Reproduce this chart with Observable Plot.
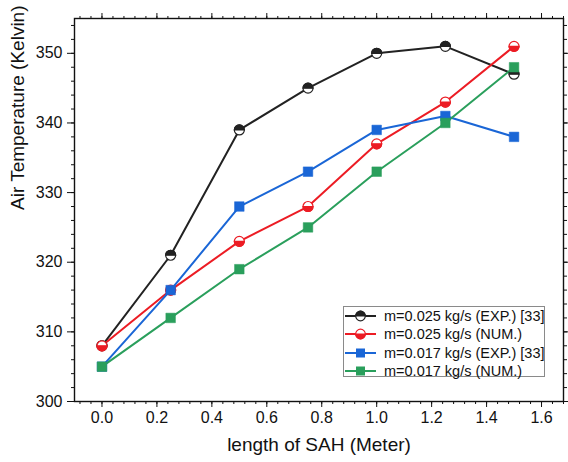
<!DOCTYPE html>
<html>
<head>
<meta charset="utf-8">
<script src="https://cdn.jsdelivr.net/npm/d3@7"></script>
<script src="https://cdn.jsdelivr.net/npm/@observablehq/plot@0.6"></script>
<style>
  html, body { margin: 0; padding: 0; background: #fff; }
  #wrap { position: relative; width: 568px; height: 462px; font-family: "Liberation Sans", Arial, sans-serif; }
  #legend { position: absolute; left: 343px; top: 306px; width: 202px; height: 71px; border: 1px solid #8a8a8a; background: #fff; box-sizing: border-box; }
  #legend .row { position: absolute; left: 0; height: 18px; display: flex; align-items: center; font-size: 14.5px; color: #111; white-space: nowrap; }
  #legend svg { display: block; margin-right: 4px; }
</style>
</head>
<body>
<div id="wrap"><div id="legend"></div></div>
<script>
// ---- data ----
const lengths = [0, 0.25, 0.5, 0.75, 1.0, 1.25, 1.5];
const exp025 = [308, 321, 339, 345, 350, 351, 347];
const num025 = [308, 316, 323, 328, 337, 343, 351];
const exp017 = [305, 316, 328, 333, 339, 341, 338];
const num017 = [305, 312, 319, 325, 333, 340, 348];
const seriesNames = ["m=0.025 kg/s (EXP.) [33]", "m=0.025 kg/s (NUM.)", "m=0.017 kg/s (EXP.) [33]", "m=0.017 kg/s (NUM.)"];
const seriesColors = ["#222222", "#ec1c24", "#1a66d6", "#2a9f5c"];
const seriesKinds = ["circleTop", "circleBottom", "square", "square"];
const xTicks = [0, 0.2, 0.4, 0.6, 0.8, 1.0, 1.2, 1.4, 1.6];
const yTicks = [300, 310, 320, 330, 340, 350];
const xMinor = d3.range(-0.08, 1.681, 0.04).map(v => +v.toFixed(2));
const yMinor = d3.range(300, 355.1, 2);

const allValues = [exp025, num025, exp017, num017];
const rows = [];
allValues.forEach((vals, s) => vals.forEach((v, i) => rows.push({x: lengths[i], y: v, s})));

// half-disc symbols
const halfTop = {draw(ctx, size) { const r = Math.sqrt(size / Math.PI); ctx.moveTo(-r, 0); ctx.arc(0, 0, r, Math.PI, 2 * Math.PI); ctx.closePath(); }};
const halfBottom = {draw(ctx, size) { const r = Math.sqrt(size / Math.PI); ctx.moveTo(r, 0); ctx.arc(0, 0, r, 0, Math.PI); ctx.closePath(); }};

const marks = [
  Plot.frame({stroke: "#111", strokeWidth: 1.4}),
  Plot.axisX(xTicks, {anchor: "bottom", tickSize: 6, tickPadding: 4, tickFormat: d3.format(".1f"), label: null, fontSize: 16}),
  Plot.axisX(xMinor, {anchor: "bottom", tickSize: 3, tickFormat: () => "", label: null}),
  Plot.axisX(xTicks, {anchor: "top", tickSize: 6, tickFormat: () => "", label: null}),
  Plot.axisX(xMinor, {anchor: "top", tickSize: 3, tickFormat: () => "", label: null}),
  Plot.axisY(yTicks, {anchor: "left", tickSize: 7, tickPadding: 5, tickFormat: d3.format("d"), label: null, fontSize: 16}),
  Plot.axisY(yMinor, {anchor: "left", tickSize: 3, tickFormat: () => "", label: null}),
  Plot.axisY(yTicks, {anchor: "right", tickSize: 7, tickFormat: () => "", label: null}),
  Plot.axisY(yMinor, {anchor: "right", tickSize: 3, tickFormat: () => "", label: null}),
  Plot.text(["length of SAH (Meter)"], {frameAnchor: "bottom", dy: 49, fontSize: 19, fill: "#111"}),
  Plot.text(["Air Temperature (Kelvin)"], {frameAnchor: "left", dx: -57, rotate: -90, fontSize: 19, fill: "#111"})
];

allValues.forEach((vals, s) => {
  const data = rows.filter(d => d.s === s);
  marks.push(Plot.line(data, {x: "x", y: "y", stroke: seriesColors[s], strokeWidth: 2}));
});
allValues.forEach((vals, s) => {
  const data = rows.filter(d => d.s === s);
  const c = seriesColors[s];
  const k = seriesKinds[s];
  if (k === "square") {
    marks.push(Plot.dot(data, {x: "x", y: "y", symbol: "square", r: 5.4, fill: c, stroke: c, strokeWidth: 0.5}));
  } else {
    marks.push(Plot.dot(data, {x: "x", y: "y", r: 5, fill: "white", stroke: c, strokeWidth: 1.2}));
    marks.push(Plot.dot(data, {x: "x", y: "y", r: 5, symbol: k === "circleTop" ? halfTop : halfBottom, fill: c, stroke: c, strokeWidth: 1.2}));
  }
});

const chart = Plot.plot({
  width: 568, height: 462,
  marginLeft: 74, marginRight: 5, marginTop: 18, marginBottom: 61,
  style: {fontFamily: "'Liberation Sans', Arial, sans-serif", fontSize: "16px", color: "#111", background: "white", overflow: "visible"},
  x: {domain: [-0.1, 1.68]},
  y: {domain: [300, 355]},
  marks
});
const wrap = document.getElementById("wrap");
wrap.insertBefore(chart, wrap.firstChild);

// legend
const legend = document.getElementById("legend");
const rowTops = [0, 18.3, 36.6, 54.9];
seriesNames.forEach((name, s) => {
  const row = document.createElement("div");
  row.className = "row";
  row.style.top = rowTops[s] + "px";
  const c = seriesColors[s];
  const k = seriesKinds[s];
  let sym;
  if (k === "square") sym = `<rect x="12" y="4.5" width="9" height="9" fill="${c}"/>`;
  else if (k === "circleTop") sym = `<circle cx="16.5" cy="9" r="4.8" fill="white" stroke="${c}" stroke-width="1.2"/><path d="M11.7,9 A4.8,4.8 0 0 1 21.3,9 Z" fill="${c}" stroke="${c}" stroke-width="1.2"/>`;
  else sym = `<circle cx="16.5" cy="9" r="4.8" fill="white" stroke="${c}" stroke-width="1.2"/><path d="M21.3,9 A4.8,4.8 0 0 1 11.7,9 Z" fill="${c}" stroke="${c}" stroke-width="1.2"/>`;
  row.innerHTML = `<svg width="36" height="18"><line x1="1" x2="32" y1="9" y2="9" stroke="${c}" stroke-width="2"/>${sym}</svg><span>${name}</span>`;
  legend.appendChild(row);
});
</script>
</body>
</html>
